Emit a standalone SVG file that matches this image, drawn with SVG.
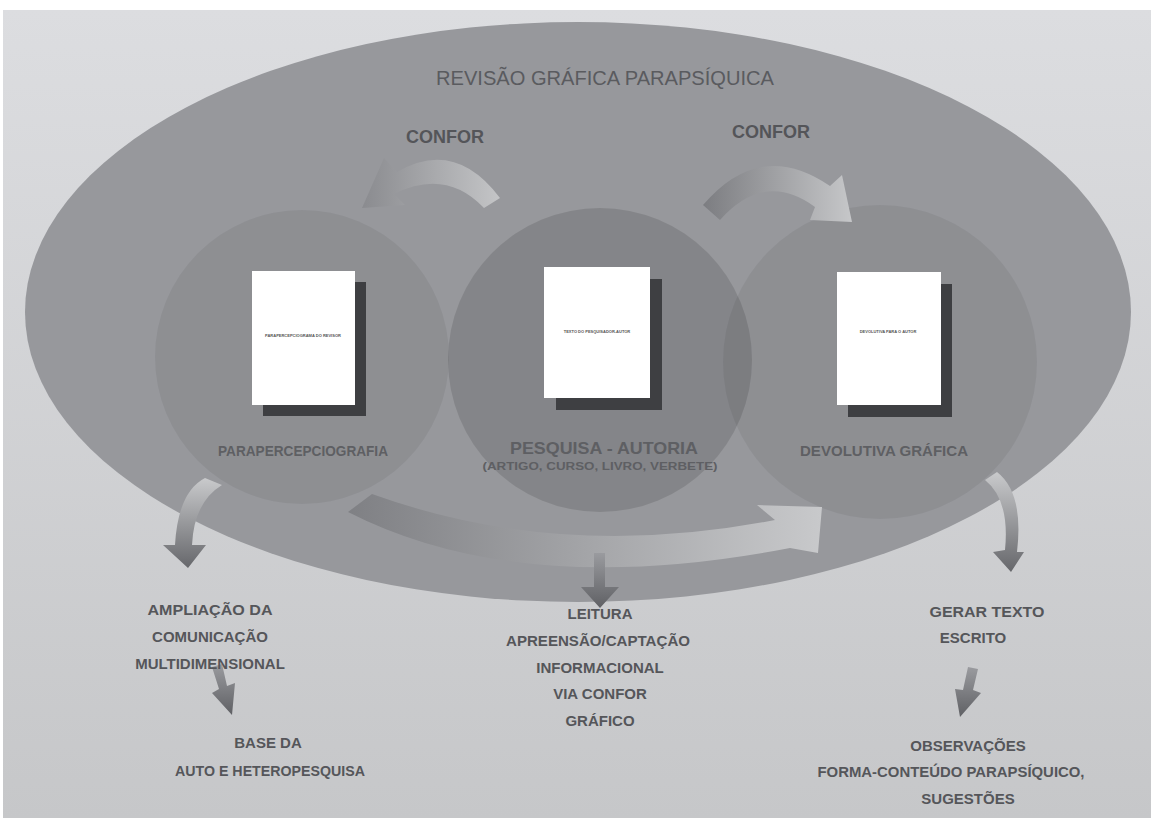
<svg xmlns="http://www.w3.org/2000/svg" width="1155" height="821" viewBox="0 0 1155 821">
<style>
.lbl{font-family:"Liberation Sans",Arial,sans-serif;fill:#5a5b5f;text-anchor:middle}
.b{font-weight:bold;fill:#5e5f63}
.bot{font-family:"Liberation Sans",Arial,sans-serif;font-weight:bold;font-size:15px;fill:#55565a;text-anchor:middle}
.conf{font-family:"Liberation Sans",Arial,sans-serif;font-weight:bold;font-size:18px;fill:#545559;text-anchor:middle}
.doc{fill:#ffffff}
.shd{fill:#3e3f42}
.tiny{font-family:"Liberation Sans",Arial,sans-serif;font-weight:bold;font-size:4px;fill:#555;text-anchor:middle}
</style>
<defs>
<linearGradient id="bg" x1="0" y1="0" x2="0" y2="1">
<stop offset="0" stop-color="#dcdde0"/><stop offset="1" stop-color="#c6c7c9"/>
</linearGradient>
<linearGradient id="gL" x1="0" y1="0" x2="1" y2="0">
<stop offset="0" stop-color="#8a8b8f"/><stop offset="1" stop-color="#c4c5c7"/>
</linearGradient>
<linearGradient id="gR" x1="0" y1="0" x2="1" y2="0">
<stop offset="0" stop-color="#7c7d81"/><stop offset="1" stop-color="#c6c7c9"/>
</linearGradient>
<linearGradient id="gB" x1="0" y1="0" x2="1" y2="0">
<stop offset="0" stop-color="#7f8084"/><stop offset="1" stop-color="#c8c9cb"/>
</linearGradient>
<linearGradient id="gD" x1="0" y1="0" x2="0" y2="1">
<stop offset="0" stop-color="#c9cacc"/><stop offset="1" stop-color="#66676b"/>
</linearGradient>
<linearGradient id="gS" x1="0" y1="0" x2="0" y2="1">
<stop offset="0" stop-color="#9a9b9f"/><stop offset="1" stop-color="#5f6064"/>
</linearGradient>
</defs>
<rect x="0" y="0" width="1155" height="821" fill="#ffffff"/>
<rect x="3" y="10" width="1148" height="808" fill="url(#bg)"/>

<g id="outer">
<ellipse cx="578" cy="312" rx="553" ry="290" fill="#97989c"/>
<text class="lbl" x="605" y="85" font-size="20" textLength="338" lengthAdjust="spacingAndGlyphs">REVISÃO GRÁFICA PARAPSÍQUICA</text>
</g>

<g id="left-node">
<circle cx="302" cy="357" r="147" fill="#000" fill-opacity="0.06"/>
<rect class="shd" x="263" y="282" width="103" height="134"/>
<rect class="doc" x="252" y="271" width="103" height="134"/>
<text class="tiny" x="303" y="337">PARAPERCEPCIOGRAMA DO REVISOR</text>
<text class="lbl b" x="303" y="456" font-size="15" textLength="170" lengthAdjust="spacingAndGlyphs">PARAPERCEPCIOGRAFIA</text>
</g>

<g id="middle-node">
<circle cx="600" cy="360" r="152" fill="#000" fill-opacity="0.12"/>
<rect class="shd" x="556" y="279" width="106" height="131"/>
<rect class="doc" x="544" y="267" width="106" height="131"/>
<text class="tiny" x="597" y="333">TEXTO DO PESQUISADOR-AUTOR</text>
<text class="lbl b" x="604" y="454" font-size="17" textLength="188" lengthAdjust="spacingAndGlyphs">PESQUISA - AUTORIA</text>
<text class="lbl b" x="600" y="470" font-size="11" textLength="235" lengthAdjust="spacingAndGlyphs">(ARTIGO, CURSO, LIVRO, VERBETE)</text>
</g>

<g id="right-node">
<circle cx="880" cy="362" r="157" fill="#000" fill-opacity="0.06"/>
<rect class="shd" x="848" y="284" width="104" height="133"/>
<rect class="doc" x="837" y="272" width="104" height="133"/>
<text class="tiny" x="888" y="333">DEVOLUTIVA PARA O AUTOR</text>
<text class="lbl b" x="884" y="456" font-size="15" textLength="168" lengthAdjust="spacingAndGlyphs">DEVOLUTIVA GRÁFICA</text>
</g>

<g id="connectors">
<path d="M500,198 Q455,138 397,172 L384,158 L362,208 L405,205 L394,194 Q446,168 484,208 Z" fill="url(#gL)"/>
<path d="M703,205 Q760,138 830,186 L842,175 L852,222 L810,220 L815,207 Q765,170 720,220 Z" fill="url(#gR)"/>
<path d="M348,512 Q520,600 790,548 L818,553 L822,507 L757,505 L775,520 Q560,562 372,494 Z" fill="url(#gB)"/>
<path d="M594,553 L605,553 L605,587 L619,587 L600,608 L581,587 L594,587 Z" fill="url(#gS)"/>
<path d="M205,478 Q178,492 175,545 L163,545 L188,568 L206,545 L192,545 Q194,502 222,485 Z" fill="url(#gD)"/>
<path d="M985,480 Q1010,500 1005,550 L993,552 L1011,572 L1024,552 L1017,552 Q1024,493 997,472 Z" fill="url(#gD)"/>
<path d="M212,667 L222,664 L227,686 L235,683 L232,715 L212,693 L219,689 Z" fill="url(#gS)"/>
<path d="M968,667 L978,669 L973,690 L981,693 L960,717 L955,689 L963,690 Z" fill="url(#gS)"/>
</g>

<g id="confor-left"><text class="conf" x="445" y="143">CONFOR</text></g>
<g id="confor-right"><text class="conf" x="771" y="138">CONFOR</text></g>

<g id="left-texts">
<text class="bot" x="210" y="615" textLength="125" lengthAdjust="spacingAndGlyphs">AMPLIAÇÃO DA</text>
<text class="bot" x="210" y="642">COMUNICAÇÃO</text>
<text class="bot" x="210" y="669">MULTIDIMENSIONAL</text>
<text class="bot" x="268" y="748">BASE DA</text>
<text class="bot" x="270" y="776" textLength="190" lengthAdjust="spacingAndGlyphs">AUTO E HETEROPESQUISA</text>
</g>

<g id="center-texts">
<text class="bot" x="600" y="619">LEITURA</text>
<text class="bot" x="598" y="646" textLength="184" lengthAdjust="spacingAndGlyphs">APREENSÃO/CAPTAÇÃO</text>
<text class="bot" x="600" y="673">INFORMACIONAL</text>
<text class="bot" x="600" y="699">VIA CONFOR</text>
<text class="bot" x="600" y="726">GRÁFICO</text>
</g>

<g id="right-texts">
<text class="bot" x="987" y="617" textLength="115" lengthAdjust="spacingAndGlyphs">GERAR TEXTO</text>
<text class="bot" x="973" y="643">ESCRITO</text>
<text class="bot" x="968" y="751">OBSERVAÇÕES</text>
<text class="bot" x="951" y="777" textLength="267" lengthAdjust="spacingAndGlyphs">FORMA-CONTEÚDO PARAPSÍQUICO,</text>
<text class="bot" x="968" y="804">SUGESTÕES</text>
</g>
</svg>
